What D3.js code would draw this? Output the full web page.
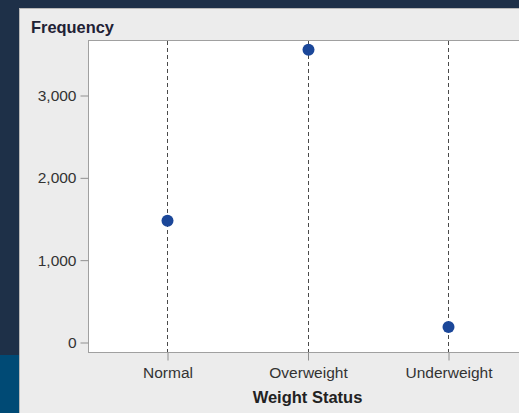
<!DOCTYPE html>
<html>
<head>
<meta charset="utf-8">
<script src="https://cdn.jsdelivr.net/npm/d3@7"></script>
<style>
  html, body { margin: 0; padding: 0; background: #1e3048; }
  svg { display: block; }
  text { font-family: "Liberation Sans", Arial, sans-serif; }
</style>
</head>
<body>
<svg id="chart" width="519" height="413"></svg>
<script>
const categories = ["Normal", "Overweight", "Underweight"];
const frequencies = [1472, 3550, 183];
const yTicks = [0, 1000, 2000, 3000];
const yTitle = "Frequency";
const xTitle = "Weight Status";

const svg = d3.select("#chart");
const W = 519, H = 413;

// background pieces
svg.append("rect").attr("x", 0).attr("y", 0).attr("width", W).attr("height", H).attr("fill", "#1e3048");
svg.append("rect").attr("x", 0).attr("y", 355).attr("width", 20).attr("height", H - 355).attr("fill", "#004a75");
// panel
svg.append("rect").attr("x", 19).attr("y", 8).attr("width", W - 19).attr("height", H - 8).attr("fill", "#ececec");
svg.append("line").attr("x1", 19.5).attr("x2", 19.5).attr("y1", 8).attr("y2", H).attr("stroke", "#b8b8b8");
svg.append("line").attr("x1", 19).attr("x2", W).attr("y1", 8.5).attr("y2", 8.5).attr("stroke", "#b8b8b8");

const plot = { left: 88, top: 40, right: 527, bottom: 352 };

const x = d3.scalePoint().domain(categories).range([167, 448]);
const y = d3.scaleLinear().domain([0, 3000]).range([342, 95]);

// plot background
svg.append("rect").attr("x", plot.left).attr("y", plot.top)
  .attr("width", plot.right - plot.left).attr("height", plot.bottom - plot.top)
  .attr("fill", "#ffffff").attr("stroke", "#a0a0a0").attr("stroke-width", 1)
  .attr("transform", "translate(0.5,0.5)");

// dashed drop lines
svg.append("g").selectAll("line").data(categories).join("line")
  .attr("x1", d => Math.round(x(d)) + 0.5).attr("x2", d => Math.round(x(d)) + 0.5)
  .attr("y1", plot.top + 1).attr("y2", plot.bottom)
  .attr("stroke", "#4a4a4a").attr("stroke-width", 1).attr("stroke-dasharray", "4,3");

// y axis
const yAxis = d3.axisLeft(y).tickValues(yTicks).tickSize(8).tickPadding(4)
  .tickFormat(d3.format(","));
const gy = svg.append("g").attr("transform", `translate(${plot.left + 0.5},0.5)`).call(yAxis);
gy.select(".domain").remove();
gy.selectAll(".tick line").attr("stroke", "#909090");
gy.selectAll(".tick text").attr("fill", "#333").style("font-size", "15.5px")
  .style("font-family", "'Liberation Sans', Arial, sans-serif");

// x axis
const xAxis = d3.axisBottom(x).tickSize(8);
const gx = svg.append("g").attr("transform", `translate(0.5,${plot.bottom + 0.5})`).call(xAxis);
gx.select(".domain").remove();
gx.selectAll(".tick line").attr("stroke", "#909090");
gx.selectAll(".tick text").attr("fill", "#333").style("font-size", "15.5px")
  .attr("y", 25.5).attr("dy", null)
  .style("font-family", "'Liberation Sans', Arial, sans-serif");

// points
svg.append("g").selectAll("circle").data(categories).join("circle")
  .attr("cx", d => Math.round(x(d)) + 0.5)
  .attr("cy", (d, i) => y(frequencies[i]))
  .attr("r", 6)
  .attr("fill", "#1b4799");

// titles
svg.append("text").attr("x", 31).attr("y", 33).text(yTitle)
  .attr("fill", "#1f2235").style("font-size", "16.4px").style("font-weight", "bold");
svg.append("text").attr("x", x("Overweight")).attr("y", 403).attr("text-anchor", "middle").text(xTitle)
  .attr("fill", "#222").style("font-size", "16.5px").style("font-weight", "bold");
</script>
</body>
</html>
